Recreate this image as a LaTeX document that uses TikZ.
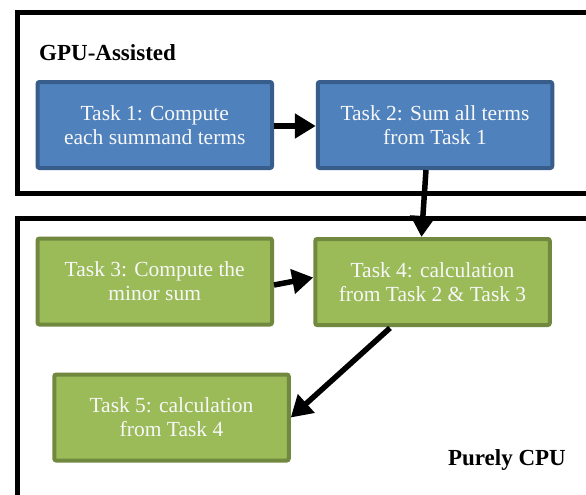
\documentclass[tikz,border=0pt]{standalone}
\usepackage{fontspec}
\setmainfont{Liberation Serif}
\usetikzlibrary{arrows.meta}
\definecolor{gpufill}{HTML}{4F81BD}
\definecolor{gpuline}{HTML}{385D8A}
\definecolor{cpufill}{HTML}{9BBB59}
\definecolor{cpuline}{HTML}{71893F}
\definecolor{tasktext}{HTML}{F7F7F7}
\tikzset{
  x=1pt, y=-1pt,
  frame/.style={draw=black, line width=5pt},
  taskbox/.style={line width=4pt, rounded corners=2pt, minimum width=234.5pt, minimum height=86pt,
    inner sep=0pt, align=center, text=tasktext, font=\fontsize{21.5}{24}\selectfont},
  gpubox/.style={taskbox, draw=gpuline, fill=gpufill},
  cpubox/.style={taskbox, draw=cpuline, fill=cpufill},
  grouplabel/.style={font=\fontsize{23}{26}\selectfont\bfseries, inner sep=0pt},
  flow/.style={draw=black, line width=5.5pt, -{Triangle[length=21pt,width=24pt]}}
}
\begin{document}
\begin{tikzpicture}
\useasboundingbox (0,0) rectangle (586,495);
\clip (0,0) rectangle (586,495);
\fill[white] (0,0) rectangle (586,495);
% group frames
\draw[frame] (17,13) rectangle (610,193);
\draw[frame] (17,218) rectangle (610,530);
\node[grouplabel, anchor=base west] (gpulabel) at (39,60) {GPU-Assisted};
\node[grouplabel, anchor=base east] (cpulabel) at (566,465) {Purely CPU};
% tasks
\node[gpubox] (t1) at (154.75,125) {Task 1: Compute\\each summand terms};
\node[gpubox] (t2) at (435,125) {Task 2: Sum all terms\\from Task 1};
\node[cpubox] (t3) at (154.75,281.5) {Task 3: Compute the\\minor sum};
\node[cpubox] (t4) at (432.5,282) {Task 4: calculation\\from Task 2 \& Task 3};
\node[cpubox] (t5) at (171.5,417.5) {Task 5: calculation\\from Task 4};
% connectors
\draw[flow] ([yshift=-1pt]t1.east) -- ([yshift=-1pt]t2.west);
\draw[flow] ([xshift=-9pt]t2.south) -- ([xshift=-11pt]t4.north);
\draw[flow] ([yshift=-3.5pt]t3.east) -- ([yshift=4.5pt]t4.west);
\draw[flow] ([xshift=-42.5pt,yshift=-1pt]t4.south) -- (t5.east);
\end{tikzpicture}
\end{document}
